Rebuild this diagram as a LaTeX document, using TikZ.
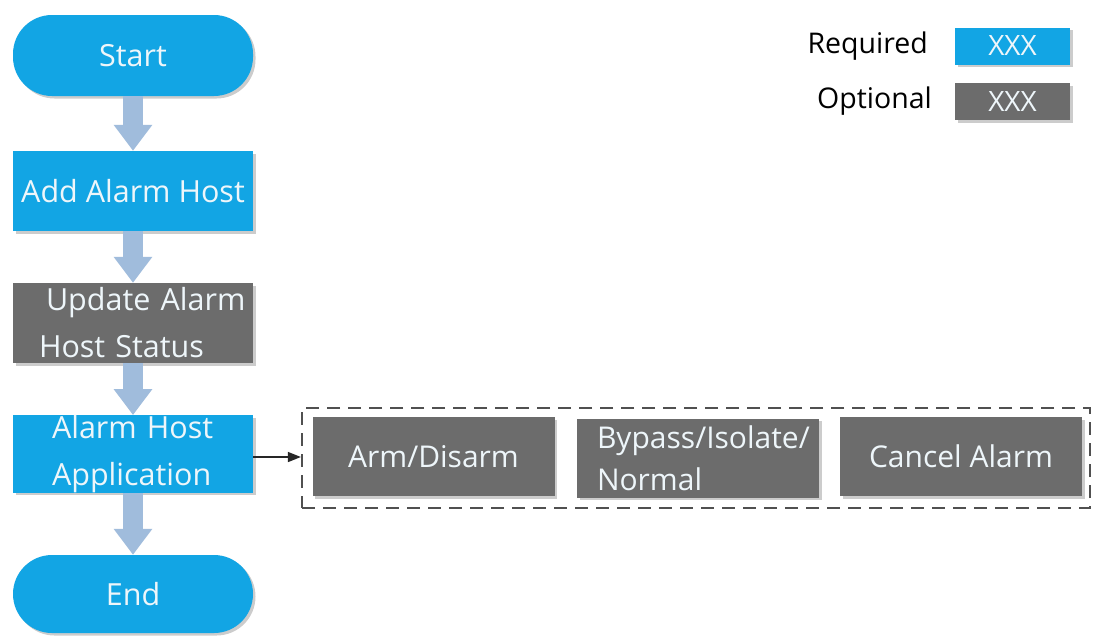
\documentclass[tikz,border=0pt]{standalone}
\usepackage{fontspec}
\setmainfont{Open Sans}
\usetikzlibrary{arrows.meta,shadows,positioning}
\definecolor{reqblue}{RGB}{18,165,228}
\definecolor{optgrey}{RGB}{108,108,108}
\definecolor{arrblue}{RGB}{160,188,220}
\definecolor{txtwhite}{RGB}{238,246,250}
\definecolor{dashgrey}{RGB}{80,80,80}
\begin{document}
\begin{tikzpicture}[x=1pt,y=-1pt,
  shade/.style={drop shadow={shadow xshift=2.5pt,shadow yshift=-2.5pt,fill=black,opacity=0.2}},
  reqbox/.style={rectangle,fill=reqblue,text=txtwhite,minimum width=240pt,inner sep=0pt,shade,font=\fontsize{30.5}{47}\selectfont},
  optbox/.style={rectangle,fill=optgrey,text=txtwhite,minimum width=240pt,inner sep=0pt,shade,font=\fontsize{30.5}{47}\selectfont},
  termbox/.style={reqbox,rounded corners=39pt},
  subbox/.style={rectangle,fill=optgrey,text=txtwhite,minimum width=242pt,minimum height=79pt,inner sep=0pt,shade,font=\fontsize{30}{42}\selectfont},
  legtext/.style={anchor=east,text=black,inner sep=0pt,font=\fontsize{28.5}{32}\selectfont},
  legbox/.style={rectangle,minimum width=115pt,minimum height=37pt,inner sep=0pt,text=txtwhite,shade,font=\fontsize{28}{30}\selectfont},
  bigarrow/.style={draw=arrblue,line width=20pt,-{Triangle[width=37pt,length=26pt]}},
  thinarrow/.style={draw=black!85,line width=1.3pt,-{Triangle[width=10pt,length=13pt]}}
]
\useasboundingbox (0,0) rectangle (1094,638);
\fill[white] (0,0) rectangle (1094,638);

% flow nodes
\node[termbox,minimum height=81pt] (start) at (133,55.5) {Start};
\node[reqbox,minimum height=80pt] (add) at (133,191) {Add Alarm Host};
\node[optbox,minimum height=80pt,align=left,text width=188pt,inner xsep=26pt] (upd) at (133,323)
  {\hspace*{7pt}\mbox{Update Alarm}\\\mbox{Host Status}};
\node[reqbox,minimum height=76pt,align=left,text width=162pt,inner xsep=39pt] (app) at (133,454)
  {\mbox{Alarm Host}\\\mbox{Application}};
\node[termbox,minimum height=78pt] (end) at (133,594) {End};

% block arrows
\draw[bigarrow] (start.south) -- (add.north);
\draw[bigarrow] (add.south) -- (upd.north);
\draw[bigarrow] (upd.south) -- (app.north);
\draw[bigarrow] (app.south) -- (end.north);

% operations group
\node[draw=dashgrey,dash pattern=on 13pt off 8pt,line width=2.2pt,rectangle,minimum width=788pt,minimum height=100pt,inner sep=0pt] (grp) at (696,458) {};
\node[subbox] (arm) at (433.5,456.5) {Arm/Disarm};
\node[subbox,align=left,text width=202pt,inner xsep=20pt] (byp) at (698,458)
  {\mbox{Bypass/Isolate/}\\Normal};
\node[subbox] (cancel) at (961,456.5) {Cancel Alarm};

\draw[thinarrow] (app.east) ++(0,3) coordinate (appout) (appout) -- (appout -| grp.west);

% legend
\node[legbox,fill=reqblue] (legreq) at (1012.5,46) {XXX};
\node[legbox,fill=optgrey] (legopt) at (1012.5,101.5) {XXX};
\node[legtext] (legreqtxt) at (928,46) {Required};
\node[legtext] (legopttxt) at (932,101.5) {Optional};
\end{tikzpicture}
\end{document}
